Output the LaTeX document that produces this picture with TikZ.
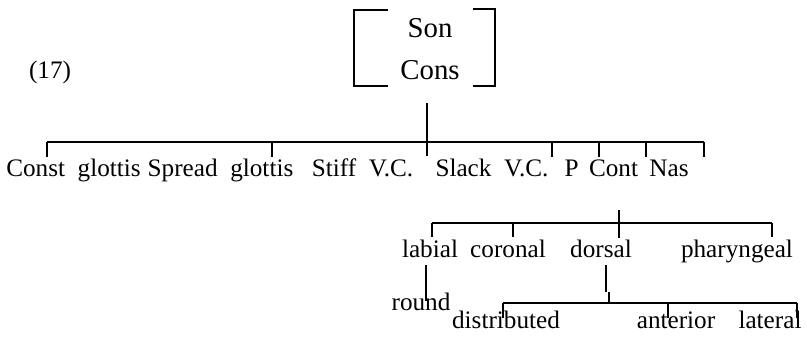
\documentclass[tikz,border=0pt]{standalone}
\usepackage{fontspec}
\setmainfont{Liberation Serif}
\begin{document}
\begin{tikzpicture}[x=0.5pt,y=-0.5pt,
  every node/.style={inner sep=0pt, font=\fontsize{12.6}{15}\selectfont},
  lbl/.style={anchor=base},
  rootlbl/.style={anchor=base, font=\fontsize{14.4}{17}\selectfont},
  brk/.style={line width=1pt},
  edge/.style={line width=1pt},
  trunk/.style={line width=1.4pt}]
\useasboundingbox (0,0) rectangle (807,342);
% number and root
\node[lbl] (num) at (50,79) {(17)};
\node[rootlbl] (son) at (430,38) {Son};
\node[rootlbl] (cons) at (430,80) {Cons};
\draw[brk] (388,10) -- (354,10) -- (354,86) -- (388,86);
\draw[brk] (473,9) -- (495,9) -- (495,86) -- (473,86);
% upper tier
\coordinate (roottop) at (427,103);
\coordinate (rootbot) at (427,156);
\coordinate (barL) at (47,142);
\coordinate (barR) at (704,142);
\draw[edge] (barL) -- (barR);
\draw[trunk] (roottop) -- (rootbot);
\node[lbl] (cg) at (73.5,176) {Const\ \ glottis};
\node[lbl] (sg) at (220.5,176) {Spread\ \ glottis};
\node[lbl] (stiff) at (362.5,176) {Stiff\ \ V.C.};
\node[lbl] (slack) at (492,176) {Slack\ \ V.C.};
\node[lbl] (p) at (571.5,176) {P};
\node[lbl] (cont) at (613.5,176) {Cont};
\node[lbl] (nas) at (669,176) {Nas};
\foreach \x/\n in {47/a,272/b,552/c,599/d,646/e,704/f}{
  \coordinate (u\n) at (\x,142);
  \draw[edge] (u\n) -- ++(0,15);
}
% lower tier
\coordinate (plTop) at (619,210);
\coordinate (plL) at (432,223);
\coordinate (plR) at (772,223);
\draw[edge] (plL) -- (plR);
\draw[edge] (plTop) -- (619,238);
\foreach \x/\n in {432/a,513/b,772/c}{
  \coordinate (l\n) at (\x,223);
  \draw[edge] (l\n) -- ++(0,14);
}
\node[lbl] (labial) at (430,257) {labial};
\node[lbl] (coronal) at (508,257) {coronal};
\node[lbl] (dorsal) at (601,257) {dorsal};
\node[lbl] (phar) at (737,257) {pharyngeal};
\node[lbl] (round) at (421,310) {round};
\coordinate (labdown) at (426,265);
\draw[edge] (labdown) -- (426,301);
\coordinate (dorA) at (606,265);
\coordinate (dorB) at (606,292);
\coordinate (dorC) at (609,292);
\coordinate (dorD) at (609,303);
\draw[edge] (dorA) -- (dorB);
\draw[edge] (dorC) -- (dorD);
\coordinate (dbL) at (503,303);
\coordinate (dbR) at (797,303);
\draw[edge] (dbL) -- (dbR);
\foreach \x/\n in {503/a,668/b,797/c}{
  \coordinate (d\n) at (\x,303);
  \draw[edge] (d\n) -- ++(0,15);
}
\node[lbl] (dist) at (506,328) {distributed};
\node[lbl] (ant) at (676,328) {anterior};
\node[lbl] (lat) at (770,328) {lateral};
\end{tikzpicture}
\end{document}
